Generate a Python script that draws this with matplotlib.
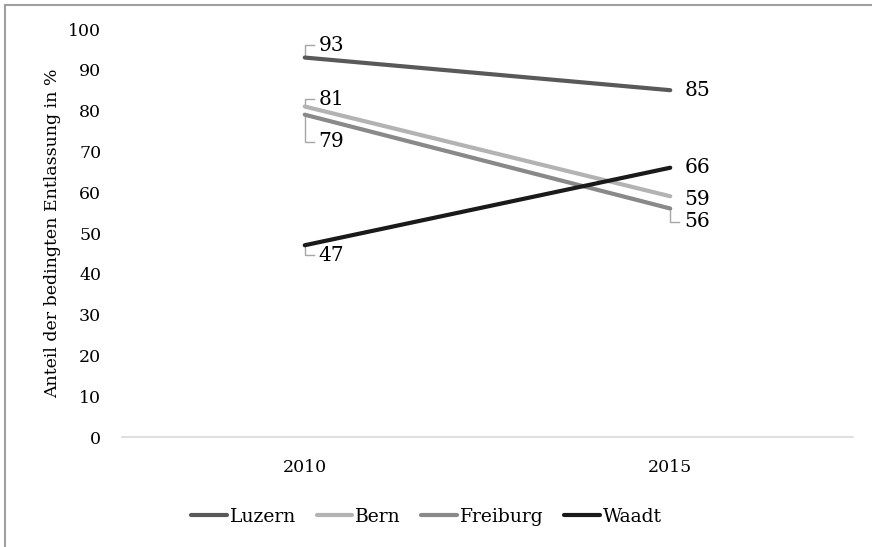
import matplotlib.pyplot as plt
from matplotlib.lines import Line2D

jahre = ['2010', '2015']
kantone = ['Luzern', 'Bern', 'Freiburg', 'Waadt']
luzern = [93, 85]
bern = [81, 59]
freiburg = [79, 56]
waadt = [47, 66]

farben = ['#595959', '#b3b3b3', '#898989', '#1a1a1a']
werte = [luzern, bern, freiburg, waadt]

# Versatz der Beschriftung (in Datenwerten), 0 = ohne Fuehrungslinie
pos2010 = {'Luzern': 3, 'Bern': 1.8, 'Freiburg': -6.6, 'Waadt': -2.5}
pos2015 = {'Luzern': 0, 'Bern': -0.7, 'Freiburg': -3.3, 'Waadt': 0}

plt.rcParams['font.family'] = 'DejaVu Serif'
plt.rcParams['font.size'] = 12.5

fig = plt.figure(figsize=(8.72, 5.47), dpi=100)
ax = fig.add_axes([122 / 872, 1 - 437 / 547, 731 / 872, 408 / 547])

x = [0, 1]
for name, v, c in zip(kantone, werte, farben):
    ax.plot(x, v, color=c, linewidth=3, solid_capstyle='round', label=name)

lc = '#a6a6a6'
for name, v in zip(kantone, werte):
    dy = pos2010[name]
    ty = v[0] + dy
    ax.plot([0, 0, 0.025], [v[0], ty, ty], color=lc, linewidth=1, zorder=1)
    ax.text(0.038, ty, str(v[0]), va='center', ha='left', fontsize=14.5)
    dy = pos2015[name]
    ty = v[1] + dy
    if abs(dy) > 1:
        ax.plot([1, 1, 1.025], [v[1], ty, ty], color=lc, linewidth=1, zorder=1)
    ax.text(1.038, ty, str(v[1]), va='center', ha='left', fontsize=14.5)

ax.set_xlim(-0.5, 1.5)
ax.set_ylim(0, 100)
ax.set_xticks(x)
ax.set_xticklabels(jahre)
ax.set_yticks(range(0, 101, 10))
ax.tick_params(length=0)
ax.tick_params(axis='x', pad=16)
ax.tick_params(axis='y', pad=15)
for s in ['top', 'right', 'left']:
    ax.spines[s].set_visible(False)
ax.spines['bottom'].set_color('#d9d9d9')
ax.spines['bottom'].set_linewidth(1.2)
ax.set_ylabel('Anteil der bedingten Entlassung in %', labelpad=5)

handles = [Line2D([0], [0], color=c, linewidth=3, solid_capstyle='round') for c in farben]
fig.legend(handles, kantone, loc='center', bbox_to_anchor=(0.489, 1 - 517 / 547),
           ncol=4, frameon=False, fontsize=13.5, handlelength=1.9,
           handletextpad=0.15, columnspacing=1.1)

# Rahmen oben und links
fig.add_artist(Line2D([5 / 872, 5 / 872], [0, 1 - 5 / 547], color='#a0a0a0', linewidth=1.5))
fig.add_artist(Line2D([5 / 872, 1], [1 - 5 / 547, 1 - 5 / 547], color='#a0a0a0', linewidth=1.5))

plt.savefig('out.png', dpi=100)
